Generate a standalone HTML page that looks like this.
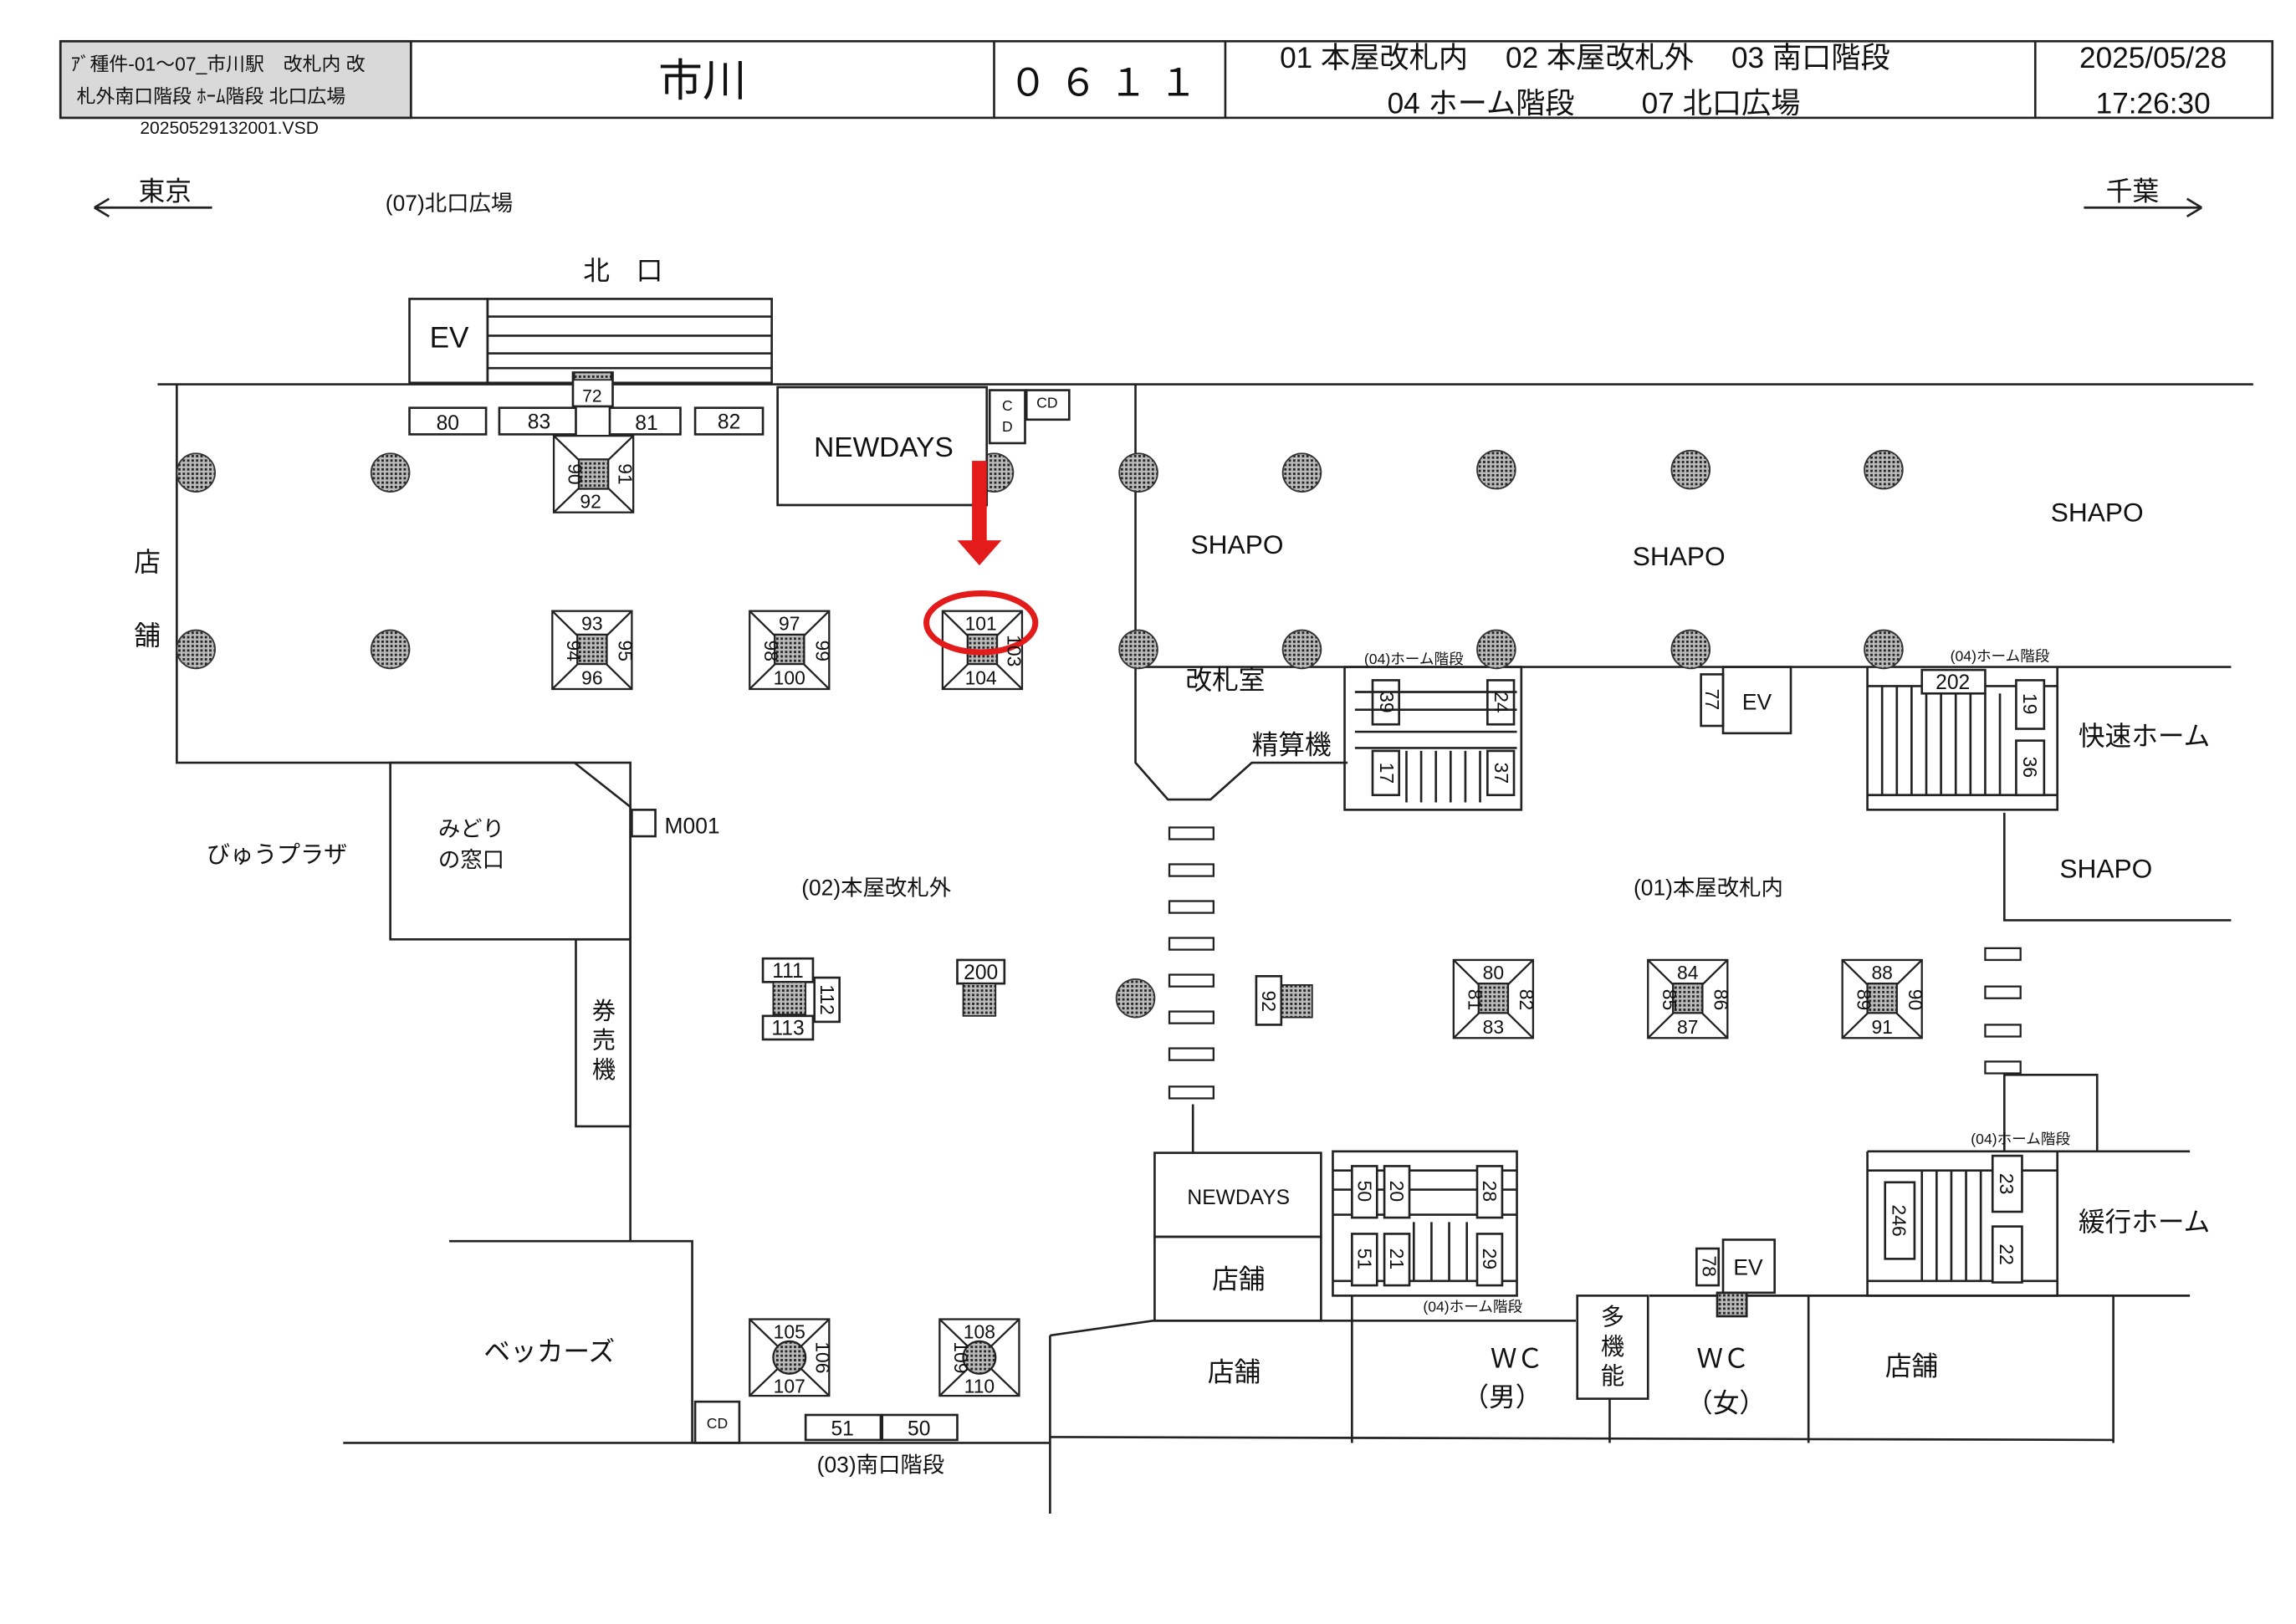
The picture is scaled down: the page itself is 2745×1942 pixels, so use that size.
<!DOCTYPE html>
<html><head><meta charset="utf-8"><style>
html,body{margin:0;padding:0;background:#fff}
svg{display:block}
text{font-family:"Liberation Sans","Noto Sans CJK JP",sans-serif;fill:#111}
</style></head><body>
<svg width="2745" height="1942" viewBox="0 0 1559 1103" xmlns="http://www.w3.org/2000/svg">
<defs>
<pattern id="h" width="3" height="3" patternUnits="userSpaceOnUse"><rect width="3" height="3" fill="#bbb"/><rect width="1.6" height="1.6" fill="#222"/></pattern>
<g id="pil"><circle r="13" fill="url(#h)" stroke="#333" stroke-width="1"/></g>
</defs>
<g fill="none" stroke="#222" stroke-width="1.5">
<rect x="41" y="28" width="238" height="52" fill="#d9d9d9"/>
<rect x="41" y="28" width="1502" height="52"/>
<line x1="279" y1="28" x2="279" y2="80"/><line x1="675" y1="28" x2="675" y2="80"/><line x1="832" y1="28" x2="832" y2="80"/><line x1="1382" y1="28" x2="1382" y2="80"/>
<path d="M64 141H144M64 141l10-6M64 141l10 6"/>
<path d="M1415 141H1495M1495 141l-10-6M1495 141l-10 6"/>
<rect x="278" y="203" width="53" height="57"/>
<rect x="331" y="203" width="193" height="57"/>
<path d="M331 215H524M331 228H524M331 240H524M331 250H524"/>
<line x1="107" y1="261" x2="1530" y2="261"/>
<path d="M120 261V518H390L428 548V843"/>
<rect x="265" y="518" width="163" height="120"/>
<rect x="429" y="550" width="16" height="18"/>
<rect x="391" y="638" width="37" height="127"/>
<path d="M305 843H470V980M233 980H713"/>
<rect x="472" y="952" width="30" height="28"/>
<rect x="547" y="961" width="51" height="17"/><rect x="599" y="961" width="51" height="17"/>
<path d="M713 907V1028M713 907L783 897H1070"/>
<line x1="713" y1="976" x2="1435" y2="978"/>
<path d="M918 880V980M1228 880V980M1435 880V980M1120 880H1487"/>
<rect x="784" y="783" width="113" height="57"/><rect x="784" y="840" width="113" height="57"/>
<rect x="1071" y="880" width="48" height="70"/>
<line x1="1093" y1="950" x2="1093" y2="980"/>
<path d="M771 261V518L793 543H822L850 518H915"/>
<line x1="771" y1="453" x2="1515" y2="453"/>
<line x1="810" y1="750" x2="810" y2="783"/>
<path d="M1361 552V625H1515"/>
<rect x="528" y="263" width="142" height="80"/>
<rect x="672" y="265" width="24" height="36"/><rect x="697" y="265" width="29" height="20"/>
<rect x="913" y="453" width="120" height="97"/>
<path d="M920 470H1030M920 482H1030M920 497H1030M920 508H1030M955 510V545M965 510V545M975 510V545M985 510V545M995 510V545M1005 510V545"/>
<rect x="932" y="462" width="18" height="30"/><rect x="932" y="510" width="18" height="30"/>
<rect x="1010" y="462" width="18" height="30"/><rect x="1010" y="510" width="18" height="30"/>
<rect x="1170" y="453" width="46" height="45"/><rect x="1155" y="458" width="15" height="35"/>
<path d="M1268 453V550H1397V453M1268 466H1305M1348 466H1397M1268 540H1397"/>
<path d="M1278 466V540M1288 466V540M1298 466V540M1308 471V540M1318 471V540M1328 471V540M1338 471V540M1348 471V540M1358 471V540"/>
<rect x="1305" y="455" width="43" height="16" fill="#fff"/>
<rect x="1369" y="462" width="19" height="33" fill="#fff"/><rect x="1369" y="503" width="19" height="37" fill="#fff"/>
<rect x="905" y="782" width="125" height="98"/>
<path d="M905 795H1030M905 808H1030M905 825H1030M905 870H1030M960 830V870M972 830V870M984 830V870M996 830V870"/>
<rect x="918" y="792" width="17" height="35" fill="#fff"/><rect x="918" y="838" width="17" height="35" fill="#fff"/>
<rect x="940" y="792" width="17" height="35" fill="#fff"/><rect x="940" y="838" width="17" height="35" fill="#fff"/>
<rect x="1003" y="792" width="17" height="35" fill="#fff"/><rect x="1003" y="838" width="17" height="35" fill="#fff"/>
<rect x="1170" y="842" width="35" height="36"/><rect x="1152" y="848" width="15" height="25"/>
<rect x="1166" y="878" width="20" height="16" fill="url(#h)"/>
<path d="M1268 782H1487M1361 782V730H1424V782M1268 782V880H1397V782M1268 795H1397M1268 870H1397"/>
<path d="M1305 795V870M1315 795V870M1325 795V870M1335 795V870M1345 795V870"/>
<rect x="1280" y="803" width="20" height="52" fill="#fff"/>
<rect x="1353" y="785" width="20" height="38" fill="#fff"/><rect x="1353" y="833" width="20" height="38" fill="#fff"/>
<rect x="278" y="277" width="52" height="18"/><rect x="339" y="277" width="52" height="18"/><rect x="414" y="277" width="48" height="18"/><rect x="472" y="277" width="46" height="18"/>
<rect x="389" y="253" width="27" height="23" fill="#fff"/>
<rect x="650" y="652" width="32" height="16"/>
<rect x="518" y="651" width="34" height="16"/><rect x="518" y="690" width="34" height="16"/><rect x="553" y="664" width="17" height="30"/>
<rect x="853" y="663" width="17" height="33"/>
</g>
<g fill="url(#h)" stroke="#222" stroke-width="1">
<rect x="654" y="668" width="22" height="22"/><rect x="525" y="667" width="22" height="22"/><rect x="870" y="669" width="21" height="22"/>
<rect x="390" y="253" width="25" height="5"/>
</g>
<g stroke="#222" stroke-width="1.3">
<g transform="translate(376,296)"><rect width="54" height="52" fill="#fff"/><path d="M0 0L54 52M54 0L0 52"/><rect x="17" y="16" width="20" height="20" fill="url(#h)"/></g>
<g transform="translate(375,415)"><rect width="54" height="53" fill="#fff"/><path d="M0 0L54 53M54 0L0 53"/><rect x="17" y="16" width="20" height="20" fill="url(#h)"/></g>
<g transform="translate(509,415)"><rect width="54" height="53" fill="#fff"/><path d="M0 0L54 53M54 0L0 53"/><rect x="17" y="16" width="20" height="20" fill="url(#h)"/></g>
<g transform="translate(640,415)"><rect width="54" height="53" fill="#fff"/><path d="M0 0L54 53M54 0L0 53"/><rect x="17" y="16" width="20" height="20" fill="url(#h)"/></g>
<g transform="translate(987,652)"><rect width="54" height="53" fill="#fff"/><path d="M0 0L54 53M54 0L0 53"/><rect x="17" y="16" width="20" height="20" fill="url(#h)"/></g>
<g transform="translate(1119,652)"><rect width="54" height="53" fill="#fff"/><path d="M0 0L54 53M54 0L0 53"/><rect x="17" y="16" width="20" height="20" fill="url(#h)"/></g>
<g transform="translate(1251,652)"><rect width="54" height="53" fill="#fff"/><path d="M0 0L54 53M54 0L0 53"/><rect x="17" y="16" width="20" height="20" fill="url(#h)"/></g>
<g transform="translate(509,896)"><rect width="54" height="52" fill="#fff"/><path d="M0 0L54 52M54 0L0 52"/><circle cx="27" cy="26" r="11" fill="url(#h)"/></g>
<g transform="translate(638,896)"><rect width="54" height="52" fill="#fff"/><path d="M0 0L54 52M54 0L0 52"/><circle cx="27" cy="26" r="11" fill="url(#h)"/></g>
</g>
<g fill="#fff" stroke="#222" stroke-width="1.3">
<rect x="794" y="562" width="30" height="8"/><rect x="794" y="587" width="30" height="8"/><rect x="794" y="612" width="30" height="8"/><rect x="794" y="637" width="30" height="8"/><rect x="794" y="662" width="30" height="8"/><rect x="794" y="687" width="30" height="8"/><rect x="794" y="712" width="30" height="8"/><rect x="794" y="738" width="30" height="8"/>
<rect x="1348" y="644" width="24" height="8"/><rect x="1348" y="670" width="24" height="8"/><rect x="1348" y="696" width="24" height="8"/><rect x="1348" y="721" width="24" height="8"/>
</g>
<use href="#pil" x="133" y="321"/><use href="#pil" x="265" y="321"/><use href="#pil" x="675" y="321"/><use href="#pil" x="773" y="321"/><use href="#pil" x="884" y="321"/><use href="#pil" x="1016" y="319"/><use href="#pil" x="1148" y="319"/><use href="#pil" x="1279" y="319"/>
<use href="#pil" x="133" y="441"/><use href="#pil" x="265" y="441"/><use href="#pil" x="773" y="441"/><use href="#pil" x="884" y="441"/><use href="#pil" x="1016" y="441"/><use href="#pil" x="1148" y="441"/><use href="#pil" x="1279" y="441"/><use href="#pil" x="771" y="678"/>
<rect x="528" y="263" width="142" height="80" fill="#fff" stroke="#222" stroke-width="1.5"/>
<rect x="660" y="313" width="10" height="55" fill="#e31b1b"/>
<path d="M650 367H680L665 384Z" fill="#e31b1b"/>
<ellipse cx="666" cy="423" rx="37" ry="20" fill="none" stroke="#e31b1b" stroke-width="4"/>
<g font-size="13">
<text x="48" y="48">ｱﾞ種件-01～07_市川駅　改札内 改</text>
<text x="52" y="70">札外南口階段 ﾎｰﾑ階段 北口広場</text>
<text x="95" y="91" font-size="12">20250529132001.VSD</text>
</g>
<text x="477" y="65" font-size="30" text-anchor="middle">市川</text>
<text x="753" y="65" font-size="26" text-anchor="middle" letter-spacing="8">０６１１</text>
<g font-size="20">
<text x="869" y="46">01 本屋改札内　 02 本屋改札外　 03 南口階段</text>
<text x="942" y="77">04 ホーム階段　　 07 北口広場</text>
<text x="1462" y="46" text-anchor="middle">2025/05/28</text>
<text x="1462" y="77" text-anchor="middle">17:26:30</text>
</g>
<g font-size="18" text-anchor="middle">
<text x="112" y="136">東京</text><text x="1448" y="136">千葉</text>
<text x="423" y="190">北　口</text>
<text x="305" y="236" font-size="20">EV</text>
<text x="600" y="310" font-size="19">NEWDAYS</text>
<text x="840" y="376">SHAPO</text><text x="1140" y="384">SHAPO</text><text x="1424" y="354">SHAPO</text><text x="1430" y="596">SHAPO</text>
<text x="100" y="388">店</text><text x="100" y="438">舗</text>
<text x="832" y="468">改札室</text><text x="877" y="512">精算機</text>
<text x="1456" y="506">快速ホーム</text><text x="1456" y="836">緩行ホーム</text>
<text x="188" y="586" font-size="16">びゅうプラザ</text>
<text x="320" y="568" font-size="15">みどり</text><text x="320" y="589" font-size="15">の窓口</text>
<text x="470" y="566" font-size="15">M001</text>
<text x="410" y="692" font-size="16">券</text><text x="410" y="712" font-size="16">売</text><text x="410" y="732" font-size="16">機</text>
<text x="373" y="924">ベッカーズ</text>
<text x="841" y="818" font-size="14">NEWDAYS</text>
<text x="841" y="875">店舗</text><text x="838" y="938">店舗</text>
<text x="1030" y="929">ＷＣ</text><text x="1020" y="955">（男）</text>
<text x="1095" y="900" font-size="16">多</text><text x="1095" y="920" font-size="16">機</text><text x="1095" y="940" font-size="16">能</text>
<text x="1170" y="929">ＷＣ</text><text x="1172" y="959">（女）</text>
<text x="1298" y="934">店舗</text>
<text x="1193" y="482" font-size="15">EV</text><text x="1187" y="866" font-size="15">EV</text>
</g>
<g font-size="14" text-anchor="middle">
<text x="305" y="143" font-size="15">(07)北口広場</text>
<text x="595" y="608" font-size="15">(02)本屋改札外</text>
<text x="1160" y="608" font-size="15">(01)本屋改札内</text>
<text x="598" y="1000" font-size="15">(03)南口階段</text>
<text x="304" y="292">80</text><text x="366" y="291">83</text><text x="439" y="292">81</text><text x="495" y="291">82</text><text x="402" y="273" font-size="12">72</text>
<text x="401" y="345" font-size="13">92</text><text x="402" y="428" font-size="13">93</text><text x="402" y="465" font-size="13">96</text>
<text x="536" y="428" font-size="13">97</text><text x="536" y="465" font-size="13">100</text>
<text x="666" y="428" font-size="13">101</text><text x="666" y="465" font-size="13">104</text>
<text x="1014" y="665" font-size="13">80</text><text x="1014" y="702" font-size="13">83</text>
<text x="1146" y="665" font-size="13">84</text><text x="1146" y="702" font-size="13">87</text>
<text x="1278" y="665" font-size="13">88</text><text x="1278" y="702" font-size="13">91</text>
<text x="536" y="909" font-size="13">105</text><text x="536" y="946" font-size="13">107</text>
<text x="665" y="909" font-size="13">108</text><text x="665" y="946" font-size="13">110</text>
<text x="666" y="665">200</text><text x="535" y="664">111</text><text x="535" y="703">113</text>
<text x="572" y="975">51</text><text x="624" y="975">50</text>
<text x="487" y="970" font-size="10">CD</text><text x="711" y="277" font-size="10">CD</text>
<text x="684" y="279" font-size="10">C</text><text x="684" y="293" font-size="10">D</text>
<text x="1326" y="468">202</text>
<text x="960" y="451" font-size="10">(04)ホーム階段</text><text x="1358" y="449" font-size="10">(04)ホーム階段</text>
<text x="1372" y="777" font-size="10">(04)ホーム階段</text><text x="1000" y="891" font-size="10">(04)ホーム階段</text>
</g>
<g font-size="13" text-anchor="middle">
<text transform="translate(386,322) rotate(90)">90</text><text transform="translate(420,322) rotate(90)">91</text>
<text transform="translate(385,442) rotate(90)">94</text><text transform="translate(420,442) rotate(90)">95</text>
<text transform="translate(519,442) rotate(90)">98</text><text transform="translate(554,442) rotate(90)">99</text>
<text transform="translate(684,442) rotate(90)">103</text>
<text transform="translate(997,679) rotate(90)">81</text><text transform="translate(1032,679) rotate(90)">82</text>
<text transform="translate(1129,679) rotate(90)">85</text><text transform="translate(1164,679) rotate(90)">86</text>
<text transform="translate(1261,679) rotate(90)">89</text><text transform="translate(1296,679) rotate(90)">90</text>
<text transform="translate(554,922) rotate(90)">106</text><text transform="translate(648,922) rotate(90)">109</text>
<text transform="translate(557,679) rotate(90)">112</text><text transform="translate(857,680) rotate(90)">92</text>
<text transform="translate(937,477) rotate(90)">39</text><text transform="translate(937,525) rotate(90)">17</text>
<text transform="translate(1015,477) rotate(90)">24</text><text transform="translate(1015,525) rotate(90)">37</text>
<text transform="translate(1158,475) rotate(90)">77</text><text transform="translate(1156,860) rotate(90)">78</text>
<text transform="translate(1374,478) rotate(90)">19</text><text transform="translate(1374,521) rotate(90)">36</text>
<text transform="translate(922,809) rotate(90)">50</text><text transform="translate(922,855) rotate(90)">51</text>
<text transform="translate(944,809) rotate(90)">20</text><text transform="translate(944,855) rotate(90)">21</text>
<text transform="translate(1007,809) rotate(90)">28</text><text transform="translate(1007,855) rotate(90)">29</text>
<text transform="translate(1285,829) rotate(90)">246</text>
<text transform="translate(1358,804) rotate(90)">23</text><text transform="translate(1358,852) rotate(90)">22</text>
</g>
</svg>
</body></html>
